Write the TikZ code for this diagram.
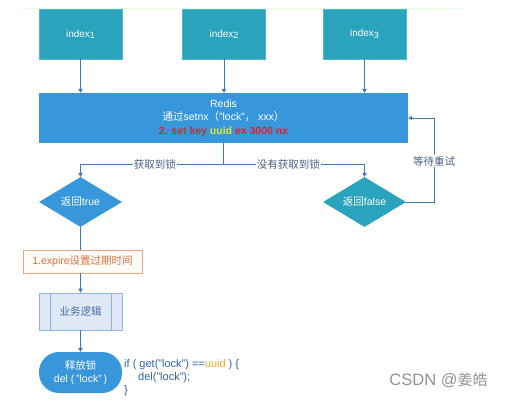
\documentclass[tikz,border=0pt]{standalone}
\usepackage{fontspec}
\setmainfont{Liberation Sans}
\newfontfamily\cjk{Noto Sans CJK SC}
\usetikzlibrary{shapes.geometric,arrows.meta}
\definecolor{cteal}{HTML}{2AA3BD}
\definecolor{cblue}{HTML}{3897DB}
\definecolor{cline}{HTML}{3D7AB8}
\definecolor{clbl}{HTML}{4A5F85}
\definecolor{corange}{HTML}{F2A585}
\definecolor{corangetxt}{HTML}{D8703E}
\definecolor{cbizfill}{HTML}{DFE9F5}
\definecolor{cbizline}{HTML}{8DB3E0}
\definecolor{cbiztxt}{HTML}{4A6FA5}
\definecolor{ccode}{HTML}{2E5FAF}
\definecolor{cred}{HTML}{E5202A}
\definecolor{cyel}{HTML}{E2E23A}
\definecolor{cuuid}{HTML}{F5A623}
\newcommand{\idxsub}[1]{\raisebox{-1.2pt}{\fontsize{9}{9}\selectfont #1}}
\begin{document}
\begin{tikzpicture}[x=1pt,y=-1pt,
  font=\fontsize{10.5}{13.5}\selectfont,
  tealbox/.style={draw=cteal!80!white,fill=cteal,text=white,minimum width=83pt,minimum height=50pt,inner sep=0pt,font=\fontsize{10}{12}\selectfont},
  bluebox/.style={fill=cblue,text=white,inner sep=0pt},
  dia/.style={diamond,aspect=1.66,minimum width=83pt,minimum height=50pt,inner sep=0pt,text=white},
  arr/.style={draw=cline,line width=0.8pt,-{Triangle[length=4pt,width=4.5pt]}},
  ln/.style={draw=cline,line width=0.8pt},
  lbl/.style={fill=white,text=clbl,inner sep=1pt,font=\cjk\fontsize{10.5}{11}\selectfont}
]
\useasboundingbox (0,0) rectangle (510,401);
\draw[draw=green!40!white!55!white,line width=0.8pt,opacity=0.5] (23,8) -- (462,8);

\node[tealbox] (i1) at (80.5,34) {index\idxsub{1}};
\node[tealbox] (i2) at (224,34) {index\idxsub{2}};
\node[tealbox] (i3) at (364.5,34) {index\idxsub{3}};

\node[bluebox,minimum width=369pt,minimum height=50pt,align=center] (redis) at (223.5,118)
  {Redis\\{\cjk 通过}setnx{\cjk （}"lock"{\cjk ，}\ xxx{\cjk ）}\\\textbf{\textcolor{cred}{2. set key \textcolor{cyel}{uuid} ex 3000 nx}}};

\draw[arr] (i1) -- (i1 |- redis.north);
\draw[arr] (i2) -- (i2 |- redis.north);
\draw[arr] (i3) -- (i3 |- redis.north);

\node[dia,fill=cblue] (dtrue) at (80.5,202) {{\cjk 返回}true};
\node[dia,fill=cteal] (dfalse) at (364.5,202) {{\cjk 返回}false};

\coordinate (j) at (223.5,164);
\draw[ln] (redis.south) -- (j);
\draw[arr] (j) -| node[lbl,pos=0.24]{获取到锁} (dtrue.north);
\draw[arr] (j) -| node[lbl,pos=0.23]{没有获取到锁} (dfalse.north);

\coordinate (loop) at (434,118);
\draw[arr] (dfalse.east) -| node[lbl,pos=0.744]{等待重试} (loop) -- (redis.east);

\node[draw=corange,fill=orange!3,text=corangetxt,line width=0.8pt,minimum width=119pt,minimum height=23pt,inner sep=0pt] (expire) at (82.5,261.5) {1.expire{\cjk 设置过期时间}};
\draw[ln] (dtrue.south) -- (dtrue.south |- expire.north);

\node[draw=cbizline,fill=cbizfill,text=cbiztxt,line width=0.8pt,minimum width=83pt,minimum height=37pt,inner sep=0pt,font=\cjk\fontsize{10.5}{12}\selectfont] (biz) at (80.5,311.5) {业务逻辑};
\draw[draw=cbizline,line width=0.8pt] ([xshift=11.5pt]biz.north west) -- ([xshift=11.5pt]biz.south west);
\draw[draw=cbizline,line width=0.8pt] ([xshift=-11.5pt]biz.north east) -- ([xshift=-11.5pt]biz.south east);
\draw[arr] (expire.south -| biz.north) -- (biz.north);

\node[bluebox,rounded corners=20pt,minimum width=83pt,minimum height=41pt,align=center,font=\fontsize{10.5}{13.5}\selectfont] (rel) at (80.5,372.5) {{\cjk 释放锁}\\del (\,"lock"\,)};
\draw[arr] (biz.south) -- (rel.north);

\node[anchor=west,align=left,text=ccode,inner sep=0pt,font=\fontsize{11}{12.8}\selectfont] (code) at (124,377.5)
  {if ( get("lock") ==\textcolor{cuuid}{uuid} ) \{\\\hspace*{14pt}del("lock");\\\}};

\node[text=gray!85!white,anchor=center,inner sep=0pt,font=\fontsize{16.5}{17}\selectfont] (wm) at (438.5,380) {CSDN @{\cjk\fontsize{15}{16}\selectfont 姜皓}};
\end{tikzpicture}
\end{document}
